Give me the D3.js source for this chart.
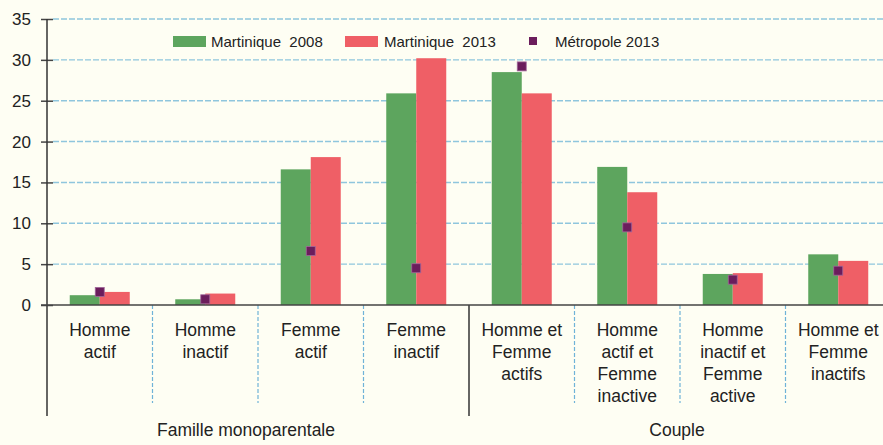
<!DOCTYPE html>
<meta charset="utf-8">
<style>
  body { margin: 0; background: #fefef3; }
  svg { display: block; font-family: "Liberation Sans", Arial, sans-serif; }
</style>
<body>
<div id="my_dataviz"></div>
<script src="https://d3js.org/d3.v7.min.js"></script>
<script>

// data
var categories = ["Homme actif", "Homme inactif", "Femme actif", "Femme inactif",
  "Homme et Femme actifs", "Homme actif et Femme inactive",
  "Homme inactif et Femme active", "Homme et Femme inactifs"];
var labelLines = [
  ["Homme", "actif"], ["Homme", "inactif"], ["Femme", "actif"], ["Femme", "inactif"],
  ["Homme et", "Femme", "actifs"], ["Homme", "actif et", "Femme", "inactive"],
  ["Homme", "inactif et", "Femme", "active"], ["Homme et", "Femme", "inactifs"]
];
var groups = ["Famille monoparentale", "Couple"];
var martinique2008 = [1.2, 0.7, 16.6, 25.9, 28.5, 16.9, 3.8, 6.2];
var martinique2013 = [1.6, 1.4, 18.1, 30.2, 25.9, 13.8, 3.9, 5.4];
var metropole2013 = [1.6, 0.7, 6.6, 4.5, 29.2, 9.5, 3.1, 4.2];
var yTicks = [0, 5, 10, 15, 20, 25, 30, 35];

var W = 883, H = 445;
var plotLeft = 47, plotRight = 891, plotTop = 19, zero = 305;

var svg = d3.select("#my_dataviz")
  .append("svg")
    .attr("width", W)
    .attr("height", H);

svg.append("rect").attr("width", W).attr("height", H).attr("fill", "#fefef3");

var x = d3.scaleBand().domain(categories).range([plotLeft, plotRight]).padding(0);
var y = d3.scaleLinear().domain([0, 35]).range([zero, plotTop]);
var bw = x.bandwidth();
var sub = d3.scaleBand().domain(["2008", "2013"]).range([bw / 2 - 30, bw / 2 + 30]);

// grid lines
svg.append("g")
  .selectAll("line")
  .data(yTicks.filter(function(d) { return d > 0; }))
  .enter().append("line")
    .attr("x1", plotLeft + 6).attr("x2", W)
    .attr("y1", function(d) { return y(d); })
    .attr("y2", function(d) { return y(d); })
    .attr("stroke", "#8fc6dd")
    .attr("stroke-width", 1.4)
    .attr("stroke-dasharray", "6,2");

// y axis
var yAxis = svg.append("g")
  .attr("transform", "translate(" + plotLeft + ",0)")
  .call(d3.axisLeft(y).tickValues(yTicks).tickSize(6).tickPadding(10));
yAxis.select(".domain").remove();
yAxis.selectAll(".tick line").attr("x2", 6).attr("x1", -6).attr("stroke", "#444").attr("stroke-width", 1.5);
yAxis.selectAll(".tick text").attr("x", -16).attr("font-size", 17)
  .attr("fill", "#222").attr("font-family", "Liberation Sans, Arial, sans-serif");

// bars
var bars = svg.append("g");
bars.selectAll(".b08")
  .data(martinique2008)
  .enter().append("rect")
    .attr("x", function(d, i) { return x(categories[i]) + sub("2008"); })
    .attr("y", function(d) { return y(d); })
    .attr("width", sub.bandwidth())
    .attr("height", function(d) { return zero - y(d); })
    .attr("fill", "#5da55e");
bars.selectAll(".b13")
  .data(martinique2013)
  .enter().append("rect")
    .attr("x", function(d, i) { return x(categories[i]) + sub("2013"); })
    .attr("y", function(d) { return y(d); })
    .attr("width", sub.bandwidth())
    .attr("height", function(d) { return zero - y(d); })
    .attr("fill", "#ef5f66");

// separators between categories
svg.append("g")
  .selectAll("line")
  .data(categories.slice(1))
  .enter().append("line")
    .attr("x1", function(d) { return x(d); })
    .attr("x2", function(d) { return x(d); })
    .attr("y1", zero)
    .attr("y2", function(d, i) { return i === 3 ? 416 : 403; })
    .attr("stroke", function(d, i) { return i === 3 ? "#333" : "#6fb3d8"; })
    .attr("stroke-width", function(d, i) { return i === 3 ? 1.5 : 1.2; })
    .attr("stroke-dasharray", function(d, i) { return i === 3 ? null : "4,2"; });

// axis lines
svg.append("line").attr("x1", plotLeft).attr("x2", plotLeft).attr("y1", plotTop).attr("y2", 416)
  .attr("stroke", "#333").attr("stroke-width", 1.5);
svg.append("line").attr("x1", plotLeft - 6).attr("x2", W).attr("y1", zero).attr("y2", zero)
  .attr("stroke", "#444").attr("stroke-width", 1.5);

// metropole markers
svg.append("g")
  .selectAll("rect")
  .data(metropole2013)
  .enter().append("rect")
    .attr("x", function(d, i) { return x(categories[i]) + bw / 2 - 4.5; })
    .attr("y", function(d) { return y(d) - 4.5; })
    .attr("width", 9)
    .attr("height", 9)
    .attr("fill", "#6b1d5c")
    .attr("stroke", "#a1679a")
    .attr("stroke-width", 0.8);

// category labels
var lab = svg.append("g").attr("font-size", 17.5).attr("fill", "#222").attr("text-anchor", "middle");
lab.selectAll("text")
  .data(labelLines)
  .enter().append("text")
    .attr("transform", function(d, i) { return "translate(" + (x(categories[i]) + bw / 2) + ",336)"; })
    .selectAll("tspan")
    .data(function(d) { return d; })
    .enter().append("tspan")
      .attr("x", 0)
      .attr("y", function(d, j) { return j * 22; })
      .text(function(d) { return d; });

// group labels
lab.selectAll(".grp")
  .data(groups)
  .enter().append("text")
    .attr("x", function(d, i) { return i === 0 ? 246 : 677; })
    .attr("y", 436)
    .text(function(d) { return d; });

// legend
var legend = svg.append("g").attr("font-size", 15).attr("fill", "#222");
legend.append("rect").attr("x", 173).attr("y", 36).attr("width", 33).attr("height", 11).attr("fill", "#5da55e");
legend.append("text").attr("x", 211).attr("y", 47).attr("xml:space", "preserve").text("Martinique  2008");
legend.append("rect").attr("x", 345).attr("y", 36).attr("width", 33).attr("height", 11).attr("fill", "#ef5f66");
legend.append("text").attr("x", 384).attr("y", 47).attr("xml:space", "preserve").text("Martinique  2013");
legend.append("rect").attr("x", 529).attr("y", 37).attr("width", 8).attr("height", 8).attr("fill", "#6b1d5c");
legend.append("text").attr("x", 555).attr("y", 47).text("Métropole 2013");

</script>
</body>
